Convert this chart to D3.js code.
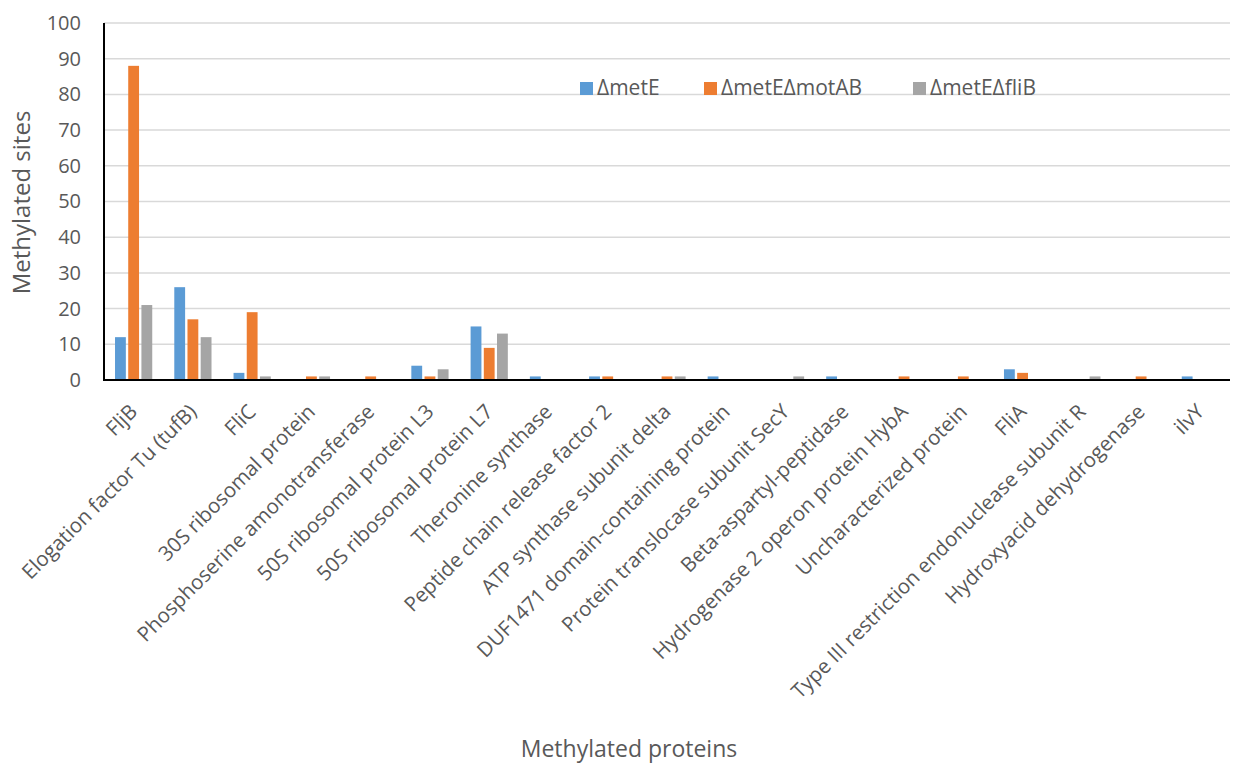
<!DOCTYPE html>
<html><head><meta charset="utf-8">
<script src="https://cdn.jsdelivr.net/npm/d3@7"></script>
<style>body{margin:0;background:#fff;} svg{display:block;font-family:"Open Sans",sans-serif;}</style>
</head><body><svg id="c" width="1235" height="766"></svg>
<script>
const categories = ["FljB","Elogation factor Tu (tufB)","FliC","30S ribosomal protein","Phosphoserine amonotransferase","50S ribosomal protein L3","50S ribosomal protein L7","Theronine synthase","Peptide chain release factor 2","ATP synthase subunit delta","DUF1471 domain-containing protein","Protein translocase subunit SecY","Beta-aspartyl-peptidase","Hydrogenase 2 operon protein HybA","Uncharacterized protein","FliA","Type III restriction endonuclease subunit R","Hydroxyacid dehydrogenase","ilvY"];
const seriesNames = ["ΔmetE","ΔmetEΔmotAB","ΔmetEΔfliB"];
const metE =       [12,26,2,0,0,4,15,1,1,0,1,0,1,0,0,3,0,0,1];
const metEmotAB =  [88,17,19,1,1,1,9,0,1,1,0,0,0,1,1,2,0,1,0];
const metEfliB =   [21,12,1,1,0,3,13,0,0,1,0,1,0,0,0,0,1,0,0];
const yTicks = [0,10,20,30,40,50,60,70,80,90,100];
const colors = ["#5b9bd5","#ed7d31","#a5a5a5"];
const series = [metE, metEmotAB, metEfliB];

const svg = d3.select("#c");
const L = 104, R = 1230, T = 23, B = 380;
const x = d3.scaleBand().domain(categories).range([L, R]).paddingInner(0).paddingOuter(0);
const xs = d3.scaleBand().domain(d3.range(3)).range([0, x.bandwidth()]).paddingInner(0.18).paddingOuter(0.835);
const y = d3.scaleLinear().domain([0,100]).range([B, T]);

// gridlines
svg.append("g").selectAll("line").data(yTicks.filter(d=>d>0)).join("line")
  .attr("x1", L).attr("x2", R).attr("y1", d=>y(d)).attr("y2", d=>y(d))
  .attr("stroke", "#d9d9d9").attr("stroke-width", 1.5);

// bars
const g = svg.append("g");
series.forEach((vals, si) => {
  g.selectAll(null).data(vals).join("rect")
    .attr("x", (d,i)=> x(categories[i]) + xs(si))
    .attr("width", xs.bandwidth())
    .attr("y", d=> y(d))
    .attr("height", d=> B - y(d))
    .attr("fill", colors[si]);
});

// y axis
const yAxis = d3.axisLeft(y).tickValues(yTicks).tickSize(0).tickPadding(0);
const ya = svg.append("g").attr("transform", `translate(${L},0)`).call(yAxis);
ya.select(".domain").remove();
ya.selectAll("text").attr("x", -23).attr("font-size", 20).attr("fill", "#595959").attr("font-family","Open Sans, sans-serif");
svg.append("line").attr("x1", L).attr("x2", L).attr("y1", T).attr("y2", B+1).attr("stroke", "#000").attr("stroke-width", 2);

// x axis
const xAxis = d3.axisBottom(x).tickSize(0).tickPadding(0);
const xa = svg.append("g").attr("transform", `translate(0,${B})`).call(xAxis);
xa.select(".domain").remove();
xa.selectAll("text")
  .attr("font-size", 20.5).attr("fill", "#595959").attr("font-family","Open Sans, sans-serif")
  .attr("text-anchor", "end").attr("dy", null).attr("y", 0)
  .attr("transform", "translate(5,33) rotate(-45)");
svg.append("line").attr("x1", L-1).attr("x2", R).attr("y1", B).attr("y2", B).attr("stroke", "#000").attr("stroke-width", 2);

// axis titles
svg.append("text").attr("transform", `translate(30,${(T+B)/2+1}) rotate(-90)`).attr("text-anchor","middle")
  .attr("font-size", 24).attr("fill","#595959").text("Methylated sites");
svg.append("text").attr("x", 629).attr("y", 757).attr("text-anchor","middle")
  .attr("font-size", 23).attr("fill","#595959").text("Methylated proteins");

// legend
const legX = [580, 704, 913];
const lg = svg.append("g");
seriesNames.forEach((n,i)=>{
  lg.append("rect").attr("x", legX[i]).attr("y", 82).attr("width", 13).attr("height", 13).attr("fill", colors[i]);
  lg.append("text").attr("x", legX[i]+17).attr("y", 95).attr("font-size", 21).attr("fill","#595959").text(n);
});
</script></body></html>
